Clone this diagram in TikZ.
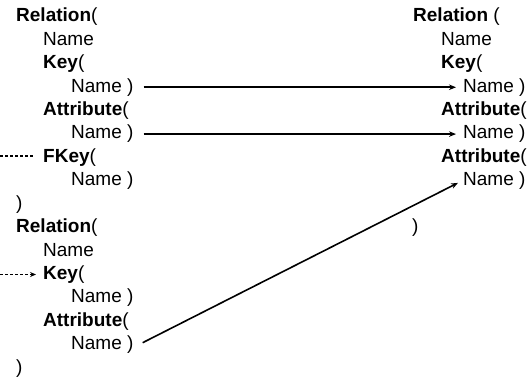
\documentclass[tikz,border=0pt]{standalone}
\usepackage{fontspec}
\setmainfont{Liberation Sans}
\usetikzlibrary{arrows.meta}
\begin{document}
\begin{tikzpicture}[x=1pt,y=-1pt,
  txt/.style={anchor=base west,inner sep=0pt,font=\fontsize{19}{23}\selectfont},
  link/.style={line width=1.6pt,-{Stealth[length=7pt,width=5.5pt]}},
  fkline/.style={line width=1.1pt,dash pattern=on 3pt off 2pt}]
\useasboundingbox (0,0) rectangle (532,382);
% left relation with a foreign key
\node[txt] (l1)  at (16,22)    {\textbf{Relation}(};
\node[txt] (l2)  at (43,45.4)  {Name};
\node[txt] (l3)  at (43,68.8)  {\textbf{Key}(};
\node[txt] (l4)  at (71,92.2)  {Name )};
\node[txt] (l5)  at (43,115.6) {\textbf{Attribute}(};
\node[txt] (l6)  at (71,139)   {Name )};
\node[txt] (l7)  at (43,162.4) {\textbf{FKey}(};
\node[txt] (l8)  at (71,185.8) {Name )};
\node[txt] (l9)  at (16,209.2) {)};
% referenced relation
\node[txt] (m1)  at (16,232.6) {\textbf{Relation}(};
\node[txt] (m2)  at (43,256)   {Name};
\node[txt] (m3)  at (43,279.4) {\textbf{Key}(};
\node[txt] (m4)  at (71,302.8) {Name )};
\node[txt] (m5)  at (43,326.2) {\textbf{Attribute}(};
\node[txt] (m6)  at (71,349.6) {Name )};
\node[txt] (m7)  at (16,373)   {)};
% joined relation
\node[txt] (r1)  at (413,22)    {\textbf{Relation} (};
\node[txt] (r2)  at (441,45.4)  {Name};
\node[txt] (r3)  at (441,68.8)  {\textbf{Key}(};
\node[txt] (r4)  at (463,92.2)  {Name )};
\node[txt] (r5)  at (441,115.6) {\textbf{Attribute}(};
\node[txt] (r6)  at (463,139)   {Name )};
\node[txt] (r7)  at (441,162.4) {\textbf{Attribute}(};
\node[txt] (r8)  at (463,185.8) {Name )};
\node[txt] (r9)  at (412,232.6) {)};
% free ends of the foreign key link
\coordinate (fk0) at (0,156);
\coordinate (pk0) at (0,274.5);
% mappings
\draw[link] ([xshift=10pt]l4.east) -- ([xshift=-7pt]r4.west);
\draw[link] ([xshift=10pt]l6.east) -- ([xshift=-7pt]r6.west);
\draw[link] ([xshift=9pt,yshift=2pt]m6.east) -- ([xshift=-5pt,yshift=-2pt]r8.west);
\draw[fkline] (fk0) -- ([xshift=-10pt]l7.west |- fk0);
\draw[fkline,-{Stealth[length=6pt,width=5pt]}] (pk0) -- ([xshift=-7pt]m3.west |- pk0);
\end{tikzpicture}
\end{document}
